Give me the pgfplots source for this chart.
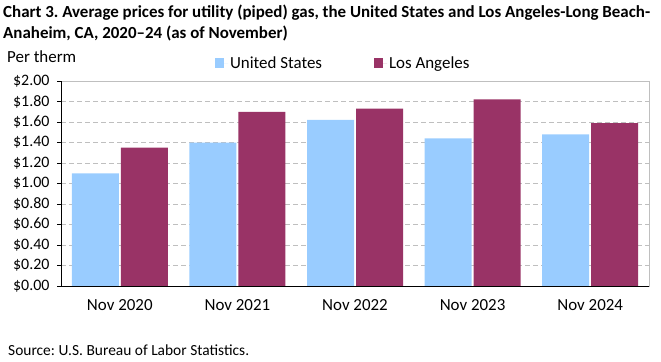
\documentclass[border=0pt]{standalone}
\usepackage{pgfplots}
\pgfplotsset{compat=1.18}
\usepackage{fontspec}
\setmainfont{Carlito}
\definecolor{usblue}{HTML}{99CCFF}
\definecolor{lared}{HTML}{993366}
\definecolor{gridgray}{HTML}{BFBFBF}
\frenchspacing
\begin{document}
\begin{tikzpicture}[x=1bp,y=1bp]
\path[use as bounding box] (0,0) rectangle (661,361);
\node[anchor=base west,font=\bfseries\fontsize{17}{20}\selectfont,inner sep=0] at (3,344) {Chart 3. Average prices for utility (piped) gas, the United States and Los Angeles-Long Beach-};
\node[anchor=base west,font=\bfseries\fontsize{17}{20}\selectfont,inner sep=0] at (3,323) {Anaheim, CA, 2020--24 (as of November)};
\node[anchor=base west,font=\fontsize{17}{20}\selectfont,inner sep=0] at (7,299) {Per therm};
\node[anchor=base west,font=\fontsize{15.5}{18}\selectfont,inner sep=0] at (8,6) {Source: U.S. Bureau of Labor Statistics.};
\begin{axis}[
  at={(61bp,75bp)}, anchor=south west,
  scale only axis, width=588bp, height=205bp,
  ybar, bar width=47bp, bar shift auto,
  xmin=-0.5, xmax=4.5, ymin=0, ymax=2,
  xtick=data, xticklabels={Nov 2020,Nov 2021,Nov 2022,Nov 2023,Nov 2024},
  ytick={0,0.2,...,2.01},
  yticklabel={\$\pgfmathprintnumber{\tick}},
  /pgf/number format/.cd, fixed, fixed zerofill, precision=2, assume math mode=true,
  /pgfplots/.cd,
  y tick label style={font=\fontsize{16}{18}\selectfont, xshift=-4bp},
  x tick label style={font=\fontsize{17}{20}\selectfont, yshift=-6bp},
  x tick style={draw=none},
  y tick style={black},
  tick align=outside, major tick length=4bp,
  ytick pos=left,
  ymajorgrids, grid style={gridgray, dash pattern=on 5bp off 3bp},
  axis line style={gridgray},
  legend style={at={(0.48,1.086)}, anchor=center, draw=none, fill=none,
    legend columns=2, font=\fontsize{17}{20}\selectfont,
    /tikz/every even column/.append style={column sep=50bp}},
  legend image code/.code={\fill[#1] (0bp,-5bp) rectangle (9bp,5bp); \path (0bp,0bp) -- (13bp,0bp);},
]
\addplot[fill=usblue, draw=none] coordinates {(0,1.10) (1,1.40) (2,1.62) (3,1.44) (4,1.48)};
\addplot[fill=lared, draw=none] coordinates {(0,1.35) (1,1.70) (2,1.73) (3,1.82) (4,1.59)};
\legend{United States, Los Angeles}
\draw[black, line width=0.8bp] (rel axis cs:0,0) -- (rel axis cs:1,0);
\draw[black, line width=0.8bp] (rel axis cs:0,0) -- (rel axis cs:0,1);
\end{axis}
\end{tikzpicture}
\end{document}
